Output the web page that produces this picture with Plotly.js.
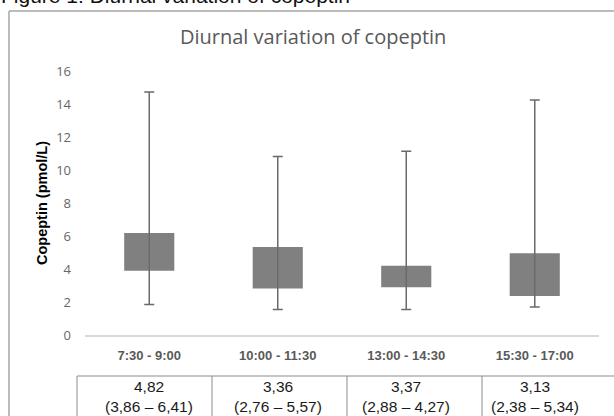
<!DOCTYPE html>
<html>
<head>
<meta charset="utf-8">
<script src="https://cdn.plot.ly/plotly-3.0.1.min.js"></script>
<style>html,body{margin:0;padding:0;background:#fff;}#chart{width:614px;height:416px;}</style>
</head>
<body>
<div id="chart"></div>
<script>
// Data
const categories = ["7:30 - 9:00", "10:00 - 11:30", "13:00 - 14:30", "15:30 - 17:00"];
const whiskerMin = [1.85, 1.55, 1.55, 1.7];
const boxLow = [3.9, 2.82, 2.9, 2.36];
const boxHigh = [6.18, 5.33, 4.19, 4.95];
const whiskerMax = [14.72, 10.82, 11.13, 14.25];
const tableMedian = ["4,82", "3,36", "3,37", "3,13"];
const tableRange = ["(3,86 – 6,41)", "(2,76 – 5,57)", "(2,88 – 4,27)", "(2,38 – 5,34)"];
const yTicks = [0, 2, 4, 6, 8, 10, 12, 14, 16];

const W = 614, H = 416;
const M = {l: 85, r: 15, t: 71, b: 81};
const pw = W - M.l - M.r, ph = H - M.t - M.b;
const px = x => (x - M.l) / pw;
const py = y => (H - M.b - y) / ph;

const bars = {
  type: 'bar',
  x: categories,
  base: boxLow,
  y: boxHigh.map((v, i) => v - boxLow[i]),
  width: 0.39,
  marker: {color: '#808080'},
  hoverinfo: 'skip'
};
const whiskers = {
  type: 'scatter',
  mode: 'markers',
  x: categories,
  y: boxLow,
  marker: {size: 1, opacity: 0},
  error_y: {
    type: 'data', symmetric: false,
    array: whiskerMax.map((v, i) => v - boxLow[i]),
    arrayminus: boxLow.map((v, i) => v - whiskerMin[i]),
    color: '#6a6a6a', thickness: 1.5, width: 5
  },
  hoverinfo: 'skip'
};

const shapes = [];
const lineC = '#8c8c8c';
// outer border
shapes.push({type: 'line', xref: 'paper', yref: 'paper', x0: px(9), x1: px(9), y0: py(11), y1: py(420), line: {color: '#a6a6a6', width: 1.5}});
shapes.push({type: 'line', xref: 'paper', yref: 'paper', x0: px(9), x1: px(620), y0: py(11), y1: py(11), line: {color: '#a6a6a6', width: 1.5}});
// table
shapes.push({type: 'line', xref: 'paper', yref: 'paper', x0: px(77), x1: px(620), y0: py(376), y1: py(376), line: {color: lineC, width: 1}});
[77, 212, 347, 482].forEach(xv => shapes.push({type: 'line', xref: 'paper', yref: 'paper', x0: px(xv), x1: px(xv), y0: py(376), y1: py(420), line: {color: lineC, width: 1}}));

const annotations = [];
annotations.push({xref: 'paper', yref: 'paper', x: px(-1), y: py(9), xanchor: 'left', yanchor: 'bottom',
  text: 'Figure 1: Diurnal variation of copeptin', showarrow: false,
  font: {family: 'Liberation Sans, Arial, sans-serif', size: 21, color: '#111'}});
annotations.push({xref: 'paper', yref: 'paper', x: px(42), y: 0.5, textangle: -90, xanchor: 'center', yanchor: 'middle',
  text: '<b>Copeptin (pmol/L)</b>', showarrow: false,
  font: {family: 'Liberation Sans, Arial, sans-serif', size: 14.5, color: '#000'}});
categories.forEach((c, i) => {
  annotations.push({xref: 'x', yref: 'paper', x: c, y: py(386), yanchor: 'middle', text: tableMedian[i], showarrow: false,
    font: {family: 'Liberation Sans, Arial, sans-serif', size: 15.5, color: '#1a1a1a'}});
  annotations.push({xref: 'x', yref: 'paper', x: c, y: py(406), yanchor: 'middle', text: tableRange[i], showarrow: false,
    font: {family: 'Liberation Sans, Arial, sans-serif', size: 15.5, color: '#1a1a1a'}});
});

const layout = {
  width: W, height: H,
  margin: M,
  paper_bgcolor: '#fff', plot_bgcolor: '#fff',
  showlegend: false,
  title: {text: 'Diurnal variation of copeptin', x: 0.51, xanchor: 'center', y: 1 - 37 / H, yanchor: 'middle', yref: 'container',
    font: {family: 'Open Sans, sans-serif', size: 20, color: '#595959'}},
  xaxis: {
    type: 'category', range: [-0.5, 3.5], showline: true, linecolor: '#d9d9d9', linewidth: 1.5,
    ticks: '', showgrid: false, zeroline: false, ticklabelstandoff: 8,
    tickfont: {family: 'Liberation Sans, Arial, sans-serif', size: 13, color: '#595959', weight: 'bold'}
  },
  yaxis: {
    range: [0, 16], tickvals: yTicks, ticktext: yTicks.map(String), showline: false, showgrid: false, zeroline: false,
    ticks: '', ticklabelstandoff: 13,
    tickfont: {family: 'Open Sans, sans-serif', size: 13, color: '#666666'}
  },
  shapes: shapes,
  annotations: annotations
};

Plotly.newPlot('chart', [bars, whiskers], layout, {displayModeBar: false, staticPlot: true});
</script>
</body>
</html>
